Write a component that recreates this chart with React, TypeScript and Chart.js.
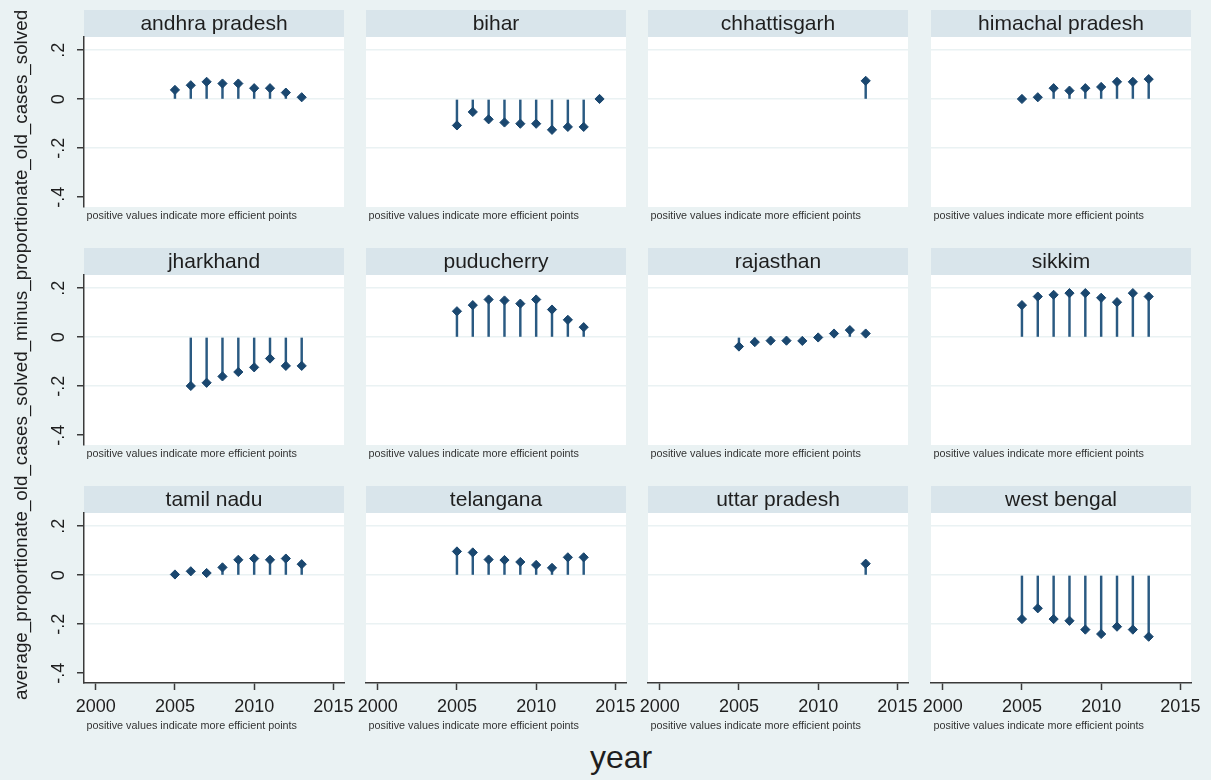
import React, { useEffect, useRef } from 'react';
import { Chart, registerables } from 'chart.js';

Chart.register(...registerables);

// ---------------- data ----------------
const STATES = [
  'andhra pradesh', 'bihar', 'chhattisgarh', 'himachal pradesh',
  'jharkhand', 'puducherry', 'rajasthan', 'sikkim',
  'tamil nadu', 'telangana', 'uttar pradesh', 'west bengal',
];

const YEARS_2005_2013 = [2005, 2006, 2007, 2008, 2009, 2010, 2011, 2012, 2013];
const YEARS_2005_2014 = [2005, 2006, 2007, 2008, 2009, 2010, 2011, 2012, 2013, 2014];
const YEARS_2006_2013 = [2006, 2007, 2008, 2009, 2010, 2011, 2012, 2013];
const YEARS_2013 = [2013];

const andhraPradesh = [0.038, 0.057, 0.071, 0.064, 0.064, 0.045, 0.045, 0.027, 0.008];
const bihar = [-0.107, -0.052, -0.082, -0.095, -0.1, -0.1, -0.125, -0.113, -0.113, 0.001];
const chhattisgarh = [0.075];
const himachalPradesh = [0.001, 0.008, 0.045, 0.035, 0.045, 0.05, 0.071, 0.071, 0.082];
const jharkhand = [-0.199, -0.186, -0.16, -0.142, -0.123, -0.087, -0.117, -0.117];
const puducherry = [0.106, 0.131, 0.154, 0.15, 0.137, 0.154, 0.113, 0.071, 0.041];
const rajasthan = [-0.038, -0.02, -0.014, -0.014, -0.015, -0.001, 0.015, 0.029, 0.015];
const sikkim = [0.131, 0.166, 0.173, 0.18, 0.18, 0.161, 0.143, 0.18, 0.166];
const tamilNadu = [0.003, 0.016, 0.009, 0.032, 0.063, 0.068, 0.063, 0.068, 0.045];
const telangana = [0.097, 0.093, 0.064, 0.062, 0.054, 0.042, 0.03, 0.073, 0.073];
const uttarPradesh = [0.047];
const westBengal = [-0.179, -0.135, -0.179, -0.186, -0.222, -0.24, -0.21, -0.222, -0.251];

const PANEL_YEARS = [
  YEARS_2005_2013, YEARS_2005_2014, YEARS_2013, YEARS_2005_2013,
  YEARS_2006_2013, YEARS_2005_2013, YEARS_2005_2013, YEARS_2005_2013,
  YEARS_2005_2013, YEARS_2005_2013, YEARS_2013, YEARS_2005_2013,
];
const PANEL_VALUES = [
  andhraPradesh, bihar, chhattisgarh, himachalPradesh,
  jharkhand, puducherry, rajasthan, sikkim,
  tamilNadu, telangana, uttarPradesh, westBengal,
];

const X_TICKS = [2000, 2005, 2010, 2015];
const Y_TICKS = [-0.4, -0.2, 0, 0.2];
const Y_TICK_LABELS = ['-.4', '-.2', '0', '.2'];
const X_MIN = 1999.26;
const X_MAX = 2015.67;
const Y_MIN = -0.44;
const Y_MAX = 0.254;

const NOTE = 'positive values indicate more efficient points';
const Y_TITLE = 'average_proportionate_old_cases_solved_minus_proportionate_old_cases_solved';
const X_TITLE = 'year';

// ---------------- style ----------------
const FONT = '"Liberation Sans", Arial, Helvetica, sans-serif';
const BG = '#eaf2f3';
const HEADER_BG = '#d9e5eb';
const GRID = '#eaf2f3';
const AXIS = '#3a3a3a';
const TEXT = '#1e1e1e';
const MARK = '#1a476f';
const STEM = '#2a5a82';

const COL_LEFT = [84, 366, 648, 931];
const ROW_TOP = [10, 248, 486];
const HEADER_H = 27;
const PLOT_W = 260;
const PLOT_H = 170;

const decoPlugin = {
  id: 'panelDeco',
  beforeDraw(chart: any, _args: any, opts: any) {
    const { ctx, chartArea: a } = chart;
    ctx.save();
    ctx.fillStyle = '#ffffff';
    ctx.fillRect(a.left, a.top, a.right - a.left, a.bottom - a.top);
    ctx.fillStyle = HEADER_BG;
    ctx.fillRect(a.left, a.top - HEADER_H, a.right - a.left, HEADER_H);
    ctx.fillStyle = TEXT;
    ctx.font = `21px ${FONT}`;
    ctx.textAlign = 'center';
    ctx.textBaseline = 'alphabetic';
    ctx.fillText(opts.title, (a.left + a.right) / 2, a.top - HEADER_H + 20);
    ctx.font = `10.8px ${FONT}`;
    ctx.fillStyle = '#333333';
    ctx.textAlign = 'left';
    ctx.fillText(NOTE, a.left + 2.5, a.bottom + opts.noteOffset);
    if (opts.yLabels) {
      const ys = chart.scales.y;
      ctx.fillStyle = TEXT;
      ctx.font = `18px ${FONT}`;
      Y_TICKS.forEach((v, i) => {
        const py = ys.getPixelForValue(v);
        ctx.save();
        ctx.translate(a.left - 25, py);
        ctx.rotate(-Math.PI / 2);
        ctx.textAlign = 'center';
        ctx.textBaseline = 'middle';
        ctx.fillText(Y_TICK_LABELS[i], 0, 0);
        ctx.restore();
      });
    }
    ctx.restore();
  },
};

function Panel({ idx }: { idx: number }) {
  const ref = useRef<HTMLCanvasElement | null>(null);
  const row = Math.floor(idx / 4);
  const col = idx % 4;
  const padL = col === 0 ? 84 : 30;
  const padR = 20;
  const yW = col === 0 ? 7 : 0;
  const isBottom = row === 2;
  const xH = isBottom ? 40 : 0;
  const padB = isBottom ? 14 : 15;
  const width = padL + PLOT_W + padR;
  const height = HEADER_H + PLOT_H + xH + padB;
  const left = COL_LEFT[col] - padL;
  const top = ROW_TOP[row];

  useEffect(() => {
    if (!ref.current) return;
    const years = PANEL_YEARS[idx];
    const vals = PANEL_VALUES[idx];
    const pts = years.map((x, i) => ({ x, y: vals[i] }));
    const chart = new Chart(ref.current, {
      type: 'bar',
      data: {
        datasets: [
          {
            type: 'bar',
            data: pts,
            backgroundColor: STEM,
            borderWidth: 0,
            barThickness: 1.8,
            order: 2,
          } as any,
          {
            type: 'scatter',
            data: pts,
            pointStyle: 'rectRot',
            pointRadius: 4.6,
            backgroundColor: MARK,
            borderColor: MARK,
            borderWidth: 1,
            order: 1,
          } as any,
        ],
      },
      options: {
        responsive: false,
        animation: false,
        events: [],
        layout: { padding: { left: padL - yW, right: padR, top: HEADER_H, bottom: padB } },
        plugins: {
          legend: { display: false },
          tooltip: { enabled: false },
          panelDeco: { title: STATES[idx], noteOffset: isBottom ? 46 : 11.5, yLabels: col === 0 },
        } as any,
        scales: {
          x: {
            type: 'linear',
            min: X_MIN,
            max: X_MAX,
            offset: false,
            display: isBottom,
            afterBuildTicks: (s: any) => { s.ticks = X_TICKS.map((v) => ({ value: v })); },
            afterFit: (s: any) => { s.height = xH; },
            ticks: {
              autoSkip: false,
              maxRotation: 0,
              minRotation: 0,
              padding: 6,
              color: TEXT,
              font: { family: FONT, size: 18 },
              callback: (v: any) => String(v),
            },
            grid: {
              offset: false,
              drawOnChartArea: false,
              drawTicks: true,
              tickLength: 7,
              tickColor: AXIS,
              tickWidth: 1.5,
            },
            border: { display: true, color: AXIS, width: 1.5 },
          } as any,
          y: {
            type: 'linear',
            min: Y_MIN,
            max: Y_MAX,
            afterBuildTicks: (s: any) => { s.ticks = Y_TICKS.map((v) => ({ value: v })); },
            afterFit: (s: any) => { s.width = yW; },
            ticks: { display: false },
            grid: {
              color: (c: any) => (c.tick && Math.abs(c.tick.value + 0.4) < 1e-6 ? 'rgba(0,0,0,0)' : GRID),
              lineWidth: 1.5,
              drawTicks: col === 0,
              tickLength: 7,
              tickColor: AXIS,
              tickWidth: 1.5,
            },
            border: { display: col === 0, color: AXIS, width: 1.5 },
          } as any,
        },
      },
      plugins: [decoPlugin],
    });
    return () => chart.destroy();
  }, [idx]);

  return (
    <canvas
      ref={ref}
      width={width}
      height={height}
      style={{ position: 'absolute', left, top, width, height }}
    />
  );
}

export default function App() {
  return (
    <div
      style={{
        position: 'absolute',
        left: 0,
        top: 0,
        width: 1211,
        height: 780,
        background: BG,
        overflow: 'hidden',
        fontFamily: FONT,
      }}
    >
      {STATES.map((_, i) => (
        <Panel key={i} idx={i} />
      ))}
      <div
        style={{
          position: 'absolute',
          left: 20.5 - 360,
          top: 355 - 11,
          width: 720,
          height: 22,
          lineHeight: '22px',
          fontSize: 18.8,
          color: TEXT,
          textAlign: 'center',
          whiteSpace: 'nowrap',
          transform: 'rotate(-90deg)',
          transformOrigin: '50% 50%',
        }}
      >
        {Y_TITLE}
      </div>
      <div
        style={{
          position: 'absolute',
          left: 521,
          top: 740.5,
          width: 200,
          height: 32,
          lineHeight: '32px',
          fontSize: 32,
          color: TEXT,
          textAlign: 'center',
        }}
      >
        {X_TITLE}
      </div>
    </div>
  );
}
